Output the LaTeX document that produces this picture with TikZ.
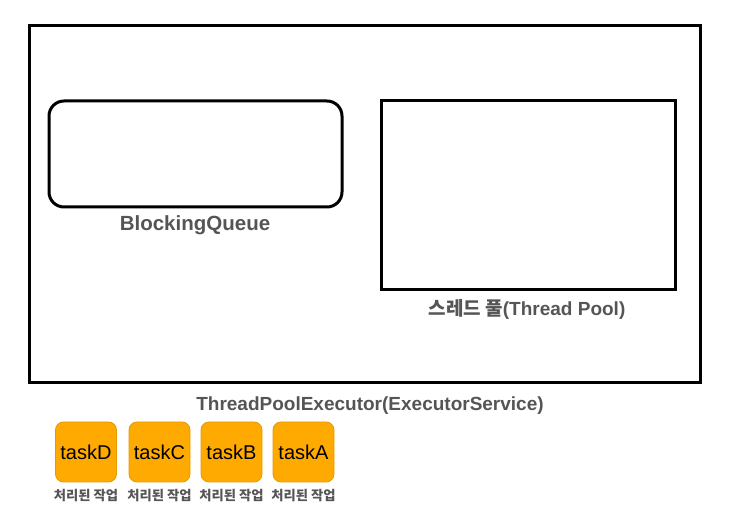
\documentclass[tikz,border=0pt]{standalone}
\usepackage{fontspec}
\setmainfont{Liberation Sans}
\newfontfamily\kr{Noto Sans CJK KR}
\definecolor{lbl}{HTML}{555555}
\definecolor{taskfill}{HTML}{FFAA00}
\definecolor{taskedge}{HTML}{E69A00}
\begin{document}
\begin{tikzpicture}[x=1pt,y=-1pt,
  frame/.style={draw=black,line width=3pt},
  caption/.style={text=lbl,font=\fontsize{19}{22}\selectfont\bfseries,inner sep=0pt},
  task/.style={fill=taskfill,draw=taskedge,line width=0.8pt,rounded corners=8pt,minimum width=61pt,minimum height=60pt,inner sep=0pt,font=\fontsize{20}{23}\selectfont},
  done/.style={text=lbl,font=\kr\fontsize{13.3}{15}\selectfont\bfseries,inner sep=0pt}]
\useasboundingbox (0,0) rectangle (732,518);
\node[frame,minimum width=671pt,minimum height=357pt,inner sep=0pt] (exec) at (364.5,204.5) {};
\node[frame,rounded corners=15pt,minimum width=293pt,minimum height=106pt,inner sep=0pt] (queue) at (195.5,154) {};
\node[caption,font=\fontsize{20.5}{23}\selectfont\bfseries] (queuelbl) at (195,225) {BlockingQueue};
\node[frame,minimum width=294pt,minimum height=189pt,inner sep=0pt] (pool) at (528,195.5) {};
\node[caption] (poollbl) at (527,309) {{\kr 스레드 풀}(Thread Pool)};
\node[caption] (execlbl) at (370,406) {ThreadPoolExecutor(ExecutorService)};
\node[task] (tD) at (86,452) {taskD};
\node[task] (tC) at (159.5,452) {taskC};
\node[task] (tB) at (231.5,452) {taskB};
\node[task] (tA) at (303.5,452) {taskA};
\node[done] (dD) at (86,496) {처리된 작업};
\node[done] (dC) at (159.5,496) {처리된 작업};
\node[done] (dB) at (231.5,496) {처리된 작업};
\node[done] (dA) at (303.5,496) {처리된 작업};
\end{tikzpicture}
\end{document}
